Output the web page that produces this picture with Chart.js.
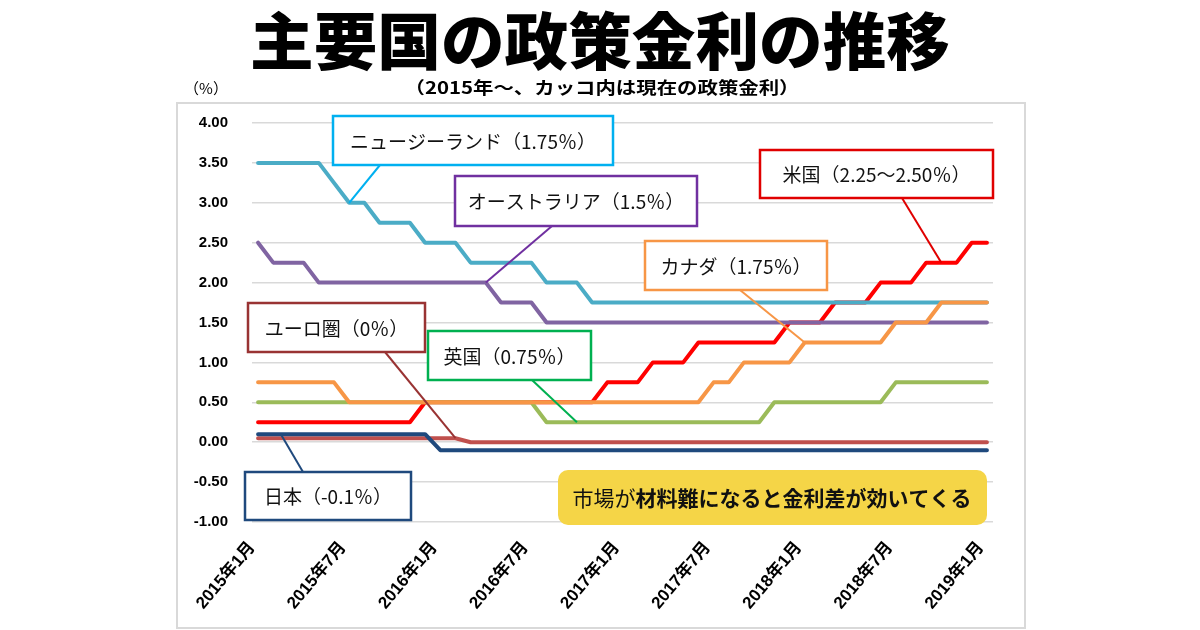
<!DOCTYPE html>
<html lang="ja">
<head>
<meta charset="utf-8">
<script src="https://cdn.jsdelivr.net/npm/chart.js@4.4.1/dist/chart.umd.min.js"></script>
<style>
  html, body { margin: 0; padding: 0; background: #fff; }
  #c { display: block; }
</style>
</head>
<body>
<canvas id="c" width="1200" height="630"></canvas>
<script>
// 2015年1月〜2019年1月 月次 (49点)
const tickLabels = ['2015年1月', '2015年7月', '2016年1月', '2016年7月', '2017年1月',
  '2017年7月', '2018年1月', '2018年7月', '2019年1月'];

const nz = [3.5, 3.5, 3.5, 3.5, 3.5, 3.25, 3, 3, 2.75, 2.75, 2.75, 2.5,
  2.5, 2.5, 2.25, 2.25, 2.25, 2.25, 2.25, 2, 2, 2, 1.75, 1.75,
  1.75, 1.75, 1.75, 1.75, 1.75, 1.75, 1.75, 1.75, 1.75, 1.75, 1.75, 1.75,
  1.75, 1.75, 1.75, 1.75, 1.75, 1.75, 1.75, 1.75, 1.75, 1.75, 1.75, 1.75,
  1.75];
const aus = [2.5, 2.25, 2.25, 2.25, 2, 2, 2, 2, 2, 2, 2, 2,
  2, 2, 2, 2, 1.75, 1.75, 1.75, 1.5, 1.5, 1.5, 1.5, 1.5,
  1.5, 1.5, 1.5, 1.5, 1.5, 1.5, 1.5, 1.5, 1.5, 1.5, 1.5, 1.5,
  1.5, 1.5, 1.5, 1.5, 1.5, 1.5, 1.5, 1.5, 1.5, 1.5, 1.5, 1.5,
  1.5];
const us = [0.25, 0.25, 0.25, 0.25, 0.25, 0.25, 0.25, 0.25, 0.25, 0.25, 0.25, 0.5,
  0.5, 0.5, 0.5, 0.5, 0.5, 0.5, 0.5, 0.5, 0.5, 0.5, 0.5, 0.75,
  0.75, 0.75, 1, 1, 1, 1.25, 1.25, 1.25, 1.25, 1.25, 1.25, 1.5,
  1.5, 1.5, 1.75, 1.75, 1.75, 2, 2, 2, 2.25, 2.25, 2.25, 2.5,
  2.5];
const canada = [0.75, 0.75, 0.75, 0.75, 0.75, 0.75, 0.5, 0.5, 0.5, 0.5, 0.5, 0.5,
  0.5, 0.5, 0.5, 0.5, 0.5, 0.5, 0.5, 0.5, 0.5, 0.5, 0.5, 0.5,
  0.5, 0.5, 0.5, 0.5, 0.5, 0.5, 0.75, 0.75, 1, 1, 1, 1,
  1.25, 1.25, 1.25, 1.25, 1.25, 1.25, 1.5, 1.5, 1.5, 1.75, 1.75, 1.75,
  1.75];
const uk = [0.5, 0.5, 0.5, 0.5, 0.5, 0.5, 0.5, 0.5, 0.5, 0.5, 0.5, 0.5,
  0.5, 0.5, 0.5, 0.5, 0.5, 0.5, 0.5, 0.25, 0.25, 0.25, 0.25, 0.25,
  0.25, 0.25, 0.25, 0.25, 0.25, 0.25, 0.25, 0.25, 0.25, 0.25, 0.5, 0.5,
  0.5, 0.5, 0.5, 0.5, 0.5, 0.5, 0.75, 0.75, 0.75, 0.75, 0.75, 0.75,
  0.75];
const euro = [0.05, 0.05, 0.05, 0.05, 0.05, 0.05, 0.05, 0.05, 0.05, 0.05, 0.05, 0.05,
  0.05, 0.05, 0, 0, 0, 0, 0, 0, 0, 0, 0, 0,
  0, 0, 0, 0, 0, 0, 0, 0, 0, 0, 0, 0,
  0, 0, 0, 0, 0, 0, 0, 0, 0, 0, 0, 0,
  0];
const japan = [0.1, 0.1, 0.1, 0.1, 0.1, 0.1, 0.1, 0.1, 0.1, 0.1, 0.1, 0.1,
  -0.1, -0.1, -0.1, -0.1, -0.1, -0.1, -0.1, -0.1, -0.1, -0.1, -0.1, -0.1,
  -0.1, -0.1, -0.1, -0.1, -0.1, -0.1, -0.1, -0.1, -0.1, -0.1, -0.1, -0.1,
  -0.1, -0.1, -0.1, -0.1, -0.1, -0.1, -0.1, -0.1, -0.1, -0.1, -0.1, -0.1,
  -0.1];

const JP = '"Noto Sans CJK JP", sans-serif';

// callouts: box (pixels), border colour, text, anchor on the series (month index, value)
const callouts = [
  { x: 333, y: 116, w: 280, h: 49, color: '#00b0f0', text: 'ニュージーランド（1.75％）', from: [380, 165], at: [6, 3] },
  { x: 455, y: 176, w: 242, h: 50, color: '#7030a0', text: 'オーストラリア（1.5％）', from: [552, 226], at: [15, 2] },
  { x: 760, y: 150, w: 233, h: 48, color: '#e00000', text: '米国（2.25～2.50％）', from: [902, 198], at: [45, 2.25] },
  { x: 645, y: 241, w: 182, h: 49, color: '#f79646', text: 'カナダ（1.75％）', from: [740, 290], at: [36, 1.25] },
  { x: 248, y: 303, w: 177, h: 49, color: '#993333', text: 'ユーロ圏（0％）', from: [385, 352], at: [13, 0.05] },
  { x: 428, y: 331, w: 163, h: 49, color: '#00b050', text: '英国（0.75％）', from: [532, 380], at: [21, 0.25] },
  { x: 245, y: 472, w: 166, h: 48, color: '#1f497d', text: '日本（-0.1％）', from: [303, 472], at: [1.5, 0.1] }
];

function pts(arr) { return arr.map((v, i) => ({ x: i, y: v })); }

function fitText(ctx, str, cx, cy, width) {
  const w = ctx.measureText(str).width;
  ctx.save();
  ctx.translate(cx, cy);
  ctx.scale(width / w, 1);
  ctx.fillText(str, 0, 0);
  ctx.restore();
}

const decor = {
  id: 'decor',
  beforeDraw(chart) {
    const ctx = chart.ctx;
    ctx.save();
    ctx.fillStyle = '#fff';
    ctx.fillRect(0, 0, chart.width, chart.height);
    ctx.strokeStyle = '#d9d9d9';
    ctx.lineWidth = 2;
    ctx.strokeRect(177, 103, 848, 525);
    ctx.restore();
  },
  afterDraw(chart) {
    const ctx = chart.ctx;
    const xs = chart.scales.x, ys = chart.scales.y;
    ctx.save();
    // title
    ctx.fillStyle = '#000';
    ctx.textAlign = 'center';
    ctx.textBaseline = 'middle';
    ctx.font = '900 62px ' + JP;
    fitText(ctx, '主要国の政策金利の推移', 600, 41, 700);
    ctx.font = 'bold 17px ' + JP;
    fitText(ctx, '（2015年～、カッコ内は現在の政策金利）', 602, 88, 395);
    ctx.font = '15px ' + JP;
    ctx.fillText('（%）', 206, 88);

    // leader lines then boxes
    callouts.forEach(c => {
      ctx.strokeStyle = c.color;
      ctx.lineWidth = 2;
      ctx.beginPath();
      ctx.moveTo(c.from[0], c.from[1]);
      ctx.lineTo(xs.getPixelForValue(c.at[0]), ys.getPixelForValue(c.at[1]));
      ctx.stroke();
    });
    callouts.forEach(c => {
      ctx.fillStyle = '#fff';
      ctx.fillRect(c.x, c.y, c.w, c.h);
      ctx.strokeStyle = c.color;
      ctx.lineWidth = 2.5;
      ctx.strokeRect(c.x, c.y, c.w, c.h);
      ctx.fillStyle = '#111';
      ctx.font = '19px ' + JP;
      ctx.textAlign = 'center';
      ctx.fillText(c.text, c.x + c.w / 2, c.y + c.h / 2 + 1);
    });

    // yellow note
    ctx.fillStyle = '#f5d547';
    ctx.beginPath();
    ctx.roundRect(558, 470, 429, 55, 10);
    ctx.fill();
    ctx.fillStyle = '#111';
    ctx.textAlign = 'left';
    const a = '市場が', b = '材料難になると金利差が効いてくる';
    ctx.font = '21px ' + JP;
    const wa = ctx.measureText(a).width;
    ctx.font = 'bold 21px ' + JP;
    const wb = ctx.measureText(b).width;
    let x0 = 772 - (wa + wb) / 2;
    ctx.font = '21px ' + JP;
    ctx.fillText(a, x0, 498);
    ctx.font = 'bold 21px ' + JP;
    ctx.fillText(b, x0 + wa, 498);
    ctx.restore();
  }
};

function line(label, data, color) {
  return {
    label, data: pts(data), borderColor: color, backgroundColor: color,
    borderWidth: 4, pointRadius: 0, tension: 0, fill: false,
    borderJoinStyle: 'round', borderCapStyle: 'round'
  };
}

new Chart(document.getElementById('c'), {
  type: 'line',
  data: {
    // first dataset is drawn on top
    datasets: [
      line('カナダ', canada, '#f79646'),
      line('ニュージーランド', nz, '#4bacc6'),
      line('オーストラリア', aus, '#8064a2'),
      line('英国', uk, '#9bbb59'),
      line('日本', japan, '#1f497d'),
      line('ユーロ圏', euro, '#c0504d'),
      line('米国', us, '#ff0000')
    ]
  },
  options: {
    responsive: false,
    animation: false,
    devicePixelRatio: 1,
    layout: { padding: { top: 123, right: 207, left: 0, bottom: 0 } },
    plugins: { legend: { display: false }, tooltip: { enabled: false } },
    scales: {
      x: {
        type: 'linear', min: -0.4, max: 48.4,
        grid: { display: false }, border: { display: false },
        afterBuildTicks(s) { s.ticks = tickLabels.map((_, i) => ({ value: i * 6 })); },
        afterFit(s) { s.height = 108; },
        ticks: {
          minRotation: 50, maxRotation: 50, autoSkip: false, padding: 8, labelOffset: -6,
          color: '#000', font: { family: '"Liberation Sans", ' + JP, size: 17, weight: 'bold' },
          callback: v => tickLabels[Math.round(v / 6)]
        }
      },
      y: {
        min: -1, max: 4,
        grid: { color: '#d9d9d9', lineWidth: 1.5, drawTicks: false },
        border: { display: false },
        afterFit(s) { s.width = 252; },
        ticks: {
          stepSize: 0.5, padding: 24, color: '#000',
          font: { family: '"Liberation Sans", sans-serif', size: 15, weight: 'bold' },
          callback: v => v.toFixed(2)
        }
      }
    }
  },
  plugins: [decor]
});
</script>
</body>
</html>
